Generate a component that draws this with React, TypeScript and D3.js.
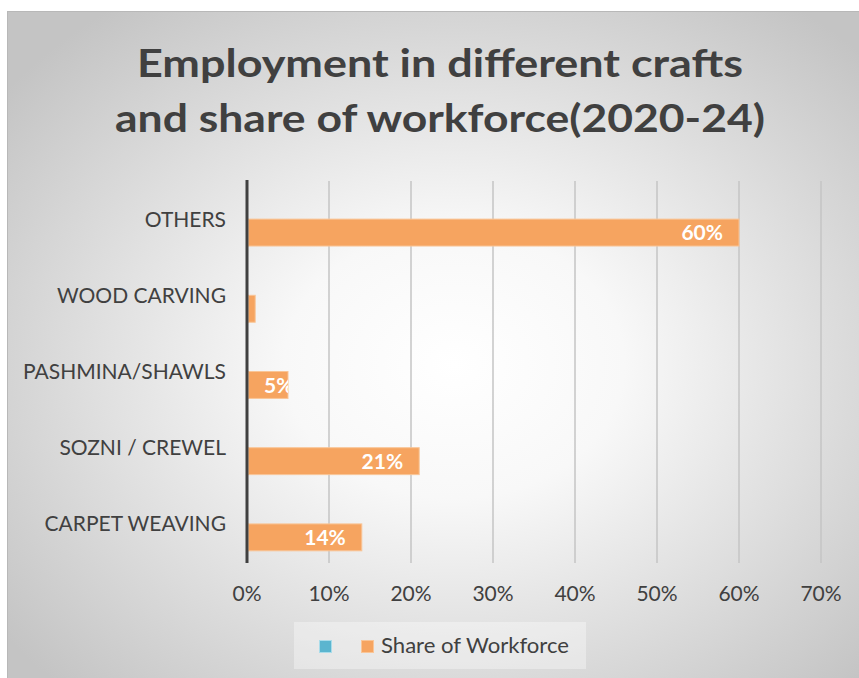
import React from "react";
import * as d3 from "d3";

const categories = ["CARPET WEAVING", "SOZNI / CREWEL", "PASHMINA/SHAWLS", "WOOD CARVING", "OTHERS"];
const shareValues = [0.14, 0.21, 0.05, 0.01, 0.60];
const seriesNames = ["", "Share of Workforce"];
const xTicks = [0, 0.1, 0.2, 0.3, 0.4, 0.5, 0.6, 0.7];
const titleLines = ["Employment in different crafts", "and share of workforce(2020-24)"];

const W = 859;
const H = 678;
const plot = { left: 247, right: 821, top: 181, bottom: 562 };
const FONT = "Lato, Carlito, Calibri, sans-serif";

export default function App() {
  const x = d3.scaleLinear().domain([0, 0.7]).range([plot.left, plot.right]);
  const y = d3.scaleBand<string>().domain(categories).range([plot.bottom, plot.top]).padding(0);
  const ys = d3.scaleBand<string>().domain(seriesNames).range([0, y.bandwidth()]).paddingInner(0).paddingOuter(0.415);
  const fmt = d3.format(".0%");

  return (
    <svg width={W} height={H} style={{ position: "absolute", left: 0, top: 0 }} fontFamily={FONT}>
      <defs>
        <radialGradient id="bg" cx="52%" cy="52%" r="66%" fx="52%" fy="52%">
          <stop offset="0%" stopColor="#ffffff" />
          <stop offset="30%" stopColor="#f8f8f8" />
          <stop offset="100%" stopColor="#c4c4c4" />
        </radialGradient>
        {categories.map((c, i) => {
          const by = (y(c) ?? 0) + (ys(seriesNames[1]) ?? 0);
          return (
            <clipPath id={`clip${i}`} key={c}>
              <rect x={x(0)} y={by} width={x(shareValues[i]) - x(0)} height={ys.bandwidth()} />
            </clipPath>
          );
        })}
      </defs>
      <rect x={7.5} y={11.5} width={W} height={H} fill="url(#bg)" stroke="#b8b8b8" strokeWidth={1} />

      {titleLines.map((t, i) => (
        <text
          key={t}
          x={440}
          y={77 + i * 55}
          textAnchor="middle"
          fontWeight="bold"
          fontSize={39}
          fill="#404040"
          textLength={i === 0 ? 606 : 650}
          lengthAdjust="spacingAndGlyphs"
        >
          {t}
        </text>
      ))}

      {/* gridlines */}
      {xTicks.slice(1).map((t) => (
        <line key={t} x1={x(t)} x2={x(t)} y1={plot.top} y2={plot.bottom + 1} stroke="#c4c4c4" strokeWidth={1.5} />
      ))}

      {/* bars */}
      {categories.map((c, i) => {
        const by = (y(c) ?? 0) + (ys(seriesNames[1]) ?? 0);
        return (
          <rect
            key={c}
            x={x(0) + 1.5}
            y={by}
            width={Math.max(0, x(shareValues[i]) - x(0) - 1.5)}
            height={ys.bandwidth()}
            fill="#F6A460"
            stroke="#F9C597"
            strokeWidth={1}
          />
        );
      })}

      {/* data labels */}
      {categories.map((c, i) => {
        const by = (y(c) ?? 0) + (ys(seriesNames[1]) ?? 0);
        const v = shareValues[i];
        const small = v < 0.1;
        return (
          <text
            key={c}
            clipPath={`url(#clip${i})`}
            x={small ? x(0) + 17 : x(v) - 16}
            y={by + ys.bandwidth() / 2}
            dy="0.36em"
            textAnchor={small ? "start" : "end"}
            fontWeight="bold"
            fontSize={21}
            fill="#ffffff"
          >
            {fmt(v)}
          </text>
        );
      })}

      {/* axis line */}
      <line x1={x(0)} x2={x(0)} y1={plot.top - 1} y2={plot.bottom + 1} stroke="#404040" strokeWidth={3} />

      {/* category labels */}
      {categories.map((c) => (
        <text key={c} x={226} y={(y(c) ?? 0) + y.bandwidth() / 2} dy="0.36em" textAnchor="end" fontSize={21} fill="#404040">
          {c}
        </text>
      ))}

      {/* x tick labels */}
      {xTicks.map((t) => (
        <text key={t} x={x(t)} y={601} textAnchor="middle" fontSize={21} fill="#404040">
          {fmt(t)}
        </text>
      ))}

      {/* legend */}
      <rect x={294} y={622} width={292} height={47} fill="#ffffff" opacity={0.35} />
      <rect x={319.5} y={640.5} width={12} height={12} fill="#5BB5CF" stroke="#A9DCEA" strokeWidth={1} />
      <rect x={361.5} y={640.5} width={12} height={12} fill="#F6A460" stroke="#F9C597" strokeWidth={1} />
      <text x={381} y={653} fontSize={21} fill="#404040" textLength={188} lengthAdjust="spacingAndGlyphs">
        {seriesNames[1]}
      </text>
    </svg>
  );
}
